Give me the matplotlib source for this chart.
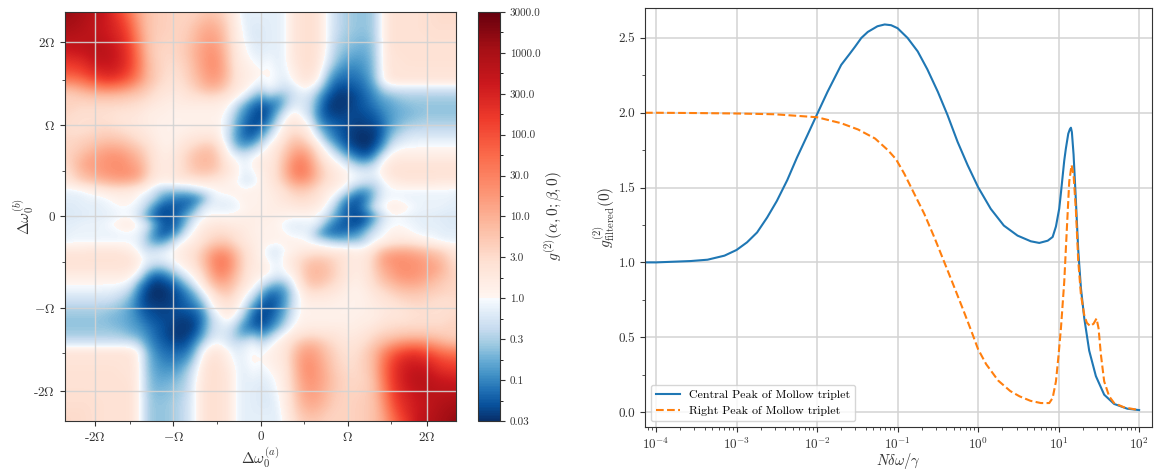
import numpy as np
import matplotlib
matplotlib.use('Agg')
import matplotlib.pyplot as plt
from matplotlib.colors import LinearSegmentedColormap, Normalize

plt.rcParams['font.family'] = ['cmr10', 'DejaVu Sans']
plt.rcParams['mathtext.fontset'] = 'cm'
plt.rcParams['axes.unicode_minus'] = False
plt.rcParams['axes.formatter.use_mathtext'] = True

# log10 g2, rows from the top edge down to the middle row
# left part runs from the left edge to the centre column, right part on to the right edge
# the map is point symmetric so the bottom half is the top half turned round
map_left = [
 [3.2,3.1,3.0,2.9,2.8,2.6,2.3,2.0,1.6,1.1,.85,.7,.65,.6,.6,.6,.6,.7,.7,.65,.4,.1,-.15,-.15,-.15],
 [3.1,3.05,2.95,2.85,2.75,2.6,2.4,2.15,1.75,1.2,.85,.7,.65,.6,.6,.6,.7,.85,.9,.75,.5,.15,-.15,-.15,-.15],
 [3.0,2.95,2.9,2.8,2.7,2.6,2.45,2.25,1.9,1.3,.85,.7,.65,.6,.6,.65,.85,1.0,1.05,.9,.55,.2,-.1,-.2,-.2],
 [2.85,2.85,2.8,2.8,2.75,2.65,2.5,2.35,2.0,1.4,.9,.7,.6,.6,.6,.7,.9,1.1,1.15,1.0,.6,.2,-.05,-.2,-.2],
 [2.7,2.75,2.75,2.8,2.8,2.75,2.6,2.4,2.1,1.5,.9,.65,.6,.55,.6,.75,.95,1.15,1.25,1.05,.65,.25,.0,-.15,-.2],
 [2.5,2.55,2.6,2.7,2.8,2.8,2.65,2.45,2.15,1.6,.95,.65,.55,.55,.6,.75,1.0,1.2,1.3,1.15,.7,.3,.05,-.1,-.15],
 [2.25,2.3,2.35,2.5,2.65,2.7,2.6,2.45,2.15,1.65,1.0,.7,.55,.5,.55,.7,.95,1.2,1.35,1.2,.75,.3,.15,.0,-.1],
 [2.0,2.05,2.15,2.3,2.45,2.5,2.5,2.35,2.05,1.6,1.0,.7,.55,.45,.5,.65,.9,1.15,1.3,1.2,.8,.35,.2,.1,.0],
 [1.6,1.65,1.75,1.95,2.1,2.25,2.2,2.05,1.8,1.4,.95,.7,.5,.4,.45,.6,.8,1.05,1.2,1.1,.75,.35,.2,.1,-.05],
 [.95,1.0,1.15,1.3,1.45,1.55,1.5,1.4,1.2,.95,.75,.55,.4,.35,.35,.5,.65,.85,.95,.85,.55,.3,.15,-.1,-.3],
 [.6,.65,.7,.75,.8,.8,.8,.75,.7,.65,.55,.4,.3,.25,.25,.35,.4,.45,.5,.4,.3,.1,-.2,-.6,-.85],
 [.6,.6,.55,.55,.55,.55,.55,.55,.5,.45,.35,.25,.2,.15,.2,.2,.2,.2,.2,.15,.05,-.35,-.75,-1.1,-1.25],
 [.55,.5,.45,.45,.45,.45,.4,.35,.35,.3,.2,.15,.15,.1,.1,.1,.1,.1,.1,.1,-.15,-.6,-1.0,-1.25,-1.4],
 [.5,.45,.45,.45,.45,.45,.4,.35,.3,.25,.2,.15,.1,.1,.1,.1,.1,.1,.1,.05,-.25,-.75,-1.1,-1.35,-1.3],
 [.5,.45,.45,.5,.55,.6,.55,.5,.4,.35,.25,.15,.1,.1,.1,.15,.2,.2,.2,.05,-.3,-.85,-1.2,-1.3,-1.1],
 [.55,.55,.6,.65,.7,.75,.75,.7,.6,.45,.35,.2,.1,.1,.2,.3,.35,.4,.4,.15,-.35,-.85,-1.1,-1.1,-.7],
 [.55,.6,.7,.8,.95,1.05,1.05,1.0,.85,.7,.5,.3,.15,.15,.3,.45,.6,.75,.7,.4,-.1,-.6,-.75,-.55,-.2],
 [.55,.7,.85,1.05,1.15,1.25,1.3,1.25,1.1,.9,.6,.35,.2,.25,.4,.6,.8,.9,.85,.55,.1,-.1,-.2,-.05,.1],
 [.5,.7,1.0,1.15,1.2,1.3,1.35,1.35,1.2,1.05,.7,.35,.25,.25,.4,.6,.8,.9,.85,.6,.3,.05,-.1,.05,.25],
 [.4,.6,.85,1.0,1.15,1.25,1.3,1.35,1.3,1.15,.7,.35,.25,.25,.4,.55,.65,.7,.65,.5,.3,.1,-.15,-.05,.1],
 [.25,.4,.6,.7,.8,.9,1.0,1.0,.95,.8,.45,.2,.1,.15,.2,.2,.25,.3,.25,.2,.1,.0,-.2,-.15,.1],
 [-.1,-.1,-.05,.05,.15,.25,.3,.3,.25,.1,.0,-.3,-.5,-.55,-.55,-.5,-.35,-.2,-.05,.05,.1,.1,.05,.1,.1],
 [-.15,-.15,-.15,-.1,-.1,-.05,.05,.1,.1,-.05,-.25,-.5,-.9,-1.05,-1.1,-1.15,-1.05,-.75,-.2,-.1,-.1,.0,.1,.1,.1],
 [-.2,-.2,-.15,-.15,-.15,-.1,-.05,.0,-.05,-.15,-.5,-1.0,-1.3,-1.3,-1.25,-1.1,-.75,-.2,-.1,-.15,-.15,-.1,.05,.1,.1],
 [-.2,-.2,-.2,-.15,-.15,-.15,-.1,-.05,-.05,-.3,-.8,-1.2,-1.35,-1.3,-1.1,-.75,-.3,-.05,.05,.05,.05,.1,.1,.15,.15],
]
map_right = [
 [-.15,-.15,-.05,.3,.4,.45,.35,.0,-.3,-.45,-.55,-.6,-.6,-.45,.1,.4,.4,.4,.4,.45,.45,.5,.5,.55],
 [-.15,-.15,-.05,.3,.4,.45,.35,.0,-.3,-.45,-.55,-.6,-.6,-.45,.1,.4,.4,.4,.4,.45,.45,.5,.5,.5],
 [-.15,-.15,-.05,.3,.4,.45,.35,.0,-.3,-.45,-.55,-.6,-.6,-.45,.1,.4,.4,.4,.4,.45,.45,.45,.45,.45],
 [-.15,-.15,-.05,.3,.4,.45,.35,.0,-.35,-.5,-.6,-.65,-.65,-.45,.1,.4,.4,.4,.4,.4,.45,.45,.45,.45],
 [-.15,-.15,-.05,.3,.4,.45,.35,.0,-.4,-.55,-.65,-.7,-.7,-.5,.1,.4,.4,.4,.4,.4,.4,.4,.4,.4],
 [-.1,-.15,-.05,.3,.4,.45,.3,-.05,-.45,-.65,-.75,-.8,-.75,-.5,.1,.35,.4,.4,.4,.4,.4,.4,.4,.4],
 [.0,-.15,-.05,.25,.4,.45,.3,-.15,-.55,-.8,-.9,-.9,-.8,-.55,.1,.35,.35,.4,.4,.4,.4,.4,.4,.4],
 [.05,-.1,-.1,.15,.35,.4,.2,-.35,-.8,-1.0,-1.05,-1.0,-.85,-.55,.05,.35,.35,.35,.35,.35,.35,.35,.35,.35],
 [.05,-.1,-.15,.05,.3,.3,.05,-.6,-1.05,-1.15,-1.15,-1.1,-.95,-.6,.05,.3,.35,.35,.35,.35,.35,.35,.35,.35],
 [-.05,-.2,-.3,-.2,.0,.0,-.35,-.9,-1.25,-1.35,-1.3,-1.2,-1.05,-.8,-.4,-.2,-.2,-.2,-.2,-.2,-.2,-.2,-.2,-.2],
 [-.6,-.75,-.6,-.3,-.2,-.3,-.75,-1.2,-1.4,-1.45,-1.4,-1.3,-1.15,-.95,-.75,-.65,-.55,-.5,-.5,-.5,-.5,-.5,-.5,-.5],
 [-1.15,-1.0,-.55,-.2,-.2,-.4,-.9,-1.35,-1.45,-1.45,-1.4,-1.3,-1.2,-1.05,-.9,-.8,-.7,-.65,-.6,-.6,-.6,-.6,-.6,-.6],
 [-1.2,-.7,-.2,.1,-.1,-.4,-1.0,-1.3,-1.4,-1.4,-1.35,-1.35,-1.3,-1.2,-1.0,-.85,-.75,-.7,-.65,-.6,-.6,-.6,-.6,-.6],
 [-1.0,-.4,.1,.3,.15,-.15,-.8,-1.15,-1.25,-1.3,-1.35,-1.4,-1.35,-1.3,-1.1,-.85,-.7,-.6,-.55,-.5,-.5,-.5,-.5,-.5],
 [-.6,-.1,.25,.45,.35,.1,-.5,-.9,-1.15,-1.3,-1.4,-1.45,-1.45,-1.4,-1.15,-.75,-.55,-.4,-.35,-.35,-.35,-.35,-.35,-.35],
 [-.2,.1,.45,.7,.65,.35,-.1,-.65,-1.0,-1.25,-1.4,-1.5,-1.5,-1.4,-1.05,-.55,-.3,-.2,-.15,-.15,-.15,-.15,-.15,-.15],
 [.1,.35,.65,.95,1.0,.75,.3,-.15,-.6,-1.0,-1.3,-1.4,-1.45,-1.25,-.8,-.2,-.05,.0,.0,.0,.0,.0,.0,.0],
 [.2,.45,.8,1.2,1.35,1.05,.55,.15,-.15,-.5,-.9,-1.15,-1.2,-.85,-.2,.1,.2,.2,.2,.2,.2,.2,.2,.2],
 [.25,.5,.95,1.4,1.55,1.25,.75,.4,.15,-.05,-.3,-.55,-.55,-.3,.1,.3,.35,.35,.35,.35,.35,.35,.35,.35],
 [.3,.5,.95,1.4,1.55,1.3,.85,.5,.3,.15,.0,-.1,-.15,-.1,.15,.35,.4,.4,.4,.4,.4,.4,.4,.4],
 [.25,.45,.75,1.1,1.2,1.05,.7,.45,.3,.15,-.05,-.2,-.3,-.3,-.05,.15,.25,.3,.3,.3,.3,.25,.25,.25],
 [.2,.3,.45,.65,.7,.6,.45,.25,.1,-.1,-.5,-.85,-.85,-.55,-.15,-.05,-.05,-.05,-.05,-.05,-.05,-.05,-.05,-.1],
 [.15,.25,.35,.45,.5,.45,.35,.1,-.15,-.7,-1.15,-1.25,-1.0,-.5,-.1,-.05,-.05,-.1,-.1,-.1,-.1,-.1,-.1,-.15],
 [.15,.2,.2,.25,.3,.25,.15,-.05,-.5,-1.05,-1.3,-1.2,-.8,-.2,.0,.2,.15,.05,-.05,-.1,-.1,-.1,-.15,-.15],
 [.15,.1,.1,.05,.05,.05,-.05,-.3,-.75,-1.1,-1.3,-1.35,-1.2,-.8,-.3,-.05,-.05,-.1,-.15,-.15,-.15,-.2,-.2,-.2],
]

omega_half = 2.24
x_major = [-1.9, -1, 0, 1, 1.905]
y_major = [-1.91, -1, 0, 1, 1.91]
tick_labels = ['-2$\\Omega$', '$-\\Omega$', '0', '$\\Omega$', '2$\\Omega$']
minor_ticks = [-1.5, -0.5, 0.5, 1.5]

cbar_ticks = [-1.5, -1, -.5, 0, .5, 1, 1.5, 2, 2.5, 3, 3.5]
cbar_labels = ['0.03', '0.1', '0.3', '1.0', '3.0', '10.0', '30.0', '100.0', '300.0', '1000.0', '3000.0']

# right panel curves, x given as log10
logw_central = [-4.137,-4,-3.57,-3.36,-3.15,-3,-2.87,-2.745,-2.62,-2.5,-2.37,-2.25,-2.12,-2,-1.87,-1.7,-1.6,-1.53,-1.45,-1.37,-1.25,-1.16,-1.08,-1,-.876,-.75,-.63,-.5,-.38,-.255,-.13,0,.157,.32,.49,.655,.76,.865,.926,.967,1.008,1.03,1.07,1.09,1.12,1.14,1.153,1.165,1.186,1.215,1.244,1.277,1.318,1.38,1.463,1.566,1.69,1.855,2]
g_central = [1.0,1.0,1.009,1.018,1.045,1.083,1.134,1.2,1.3,1.41,1.55,1.70,1.85,1.99,2.14,2.32,2.39,2.44,2.5,2.54,2.578,2.59,2.585,2.565,2.5,2.41,2.29,2.14,1.985,1.806,1.65,1.503,1.358,1.246,1.179,1.141,1.13,1.145,1.17,1.24,1.36,1.47,1.68,1.76,1.86,1.89,1.9,1.87,1.72,1.41,1.08,.83,.63,.41,.24,.116,.054,.022,.013]
logw_right = [-4.137,-4,-3.5,-3,-2.53,-2,-1.7,-1.49,-1.28,-1.12,-1.02,-.917,-.793,-.668,-.544,-.4,-.3,-.19,-.09,0,.1,.25,.4,.515,.65,.78,.884,.926,.967,.996,1.029,1.07,1.103,1.132,1.161,1.186,1.215,1.244,1.277,1.318,1.351,1.393,1.434,1.471,1.496,1.525,1.566,1.628,1.69,1.814,2]
g_right = [2.0,2.0,1.998,1.995,1.99,1.97,1.93,1.888,1.828,1.75,1.69,1.593,1.459,1.324,1.168,.975,.84,.69,.55,.42,.32,.21,.14,.105,.075,.06,.06,.094,.205,.36,.56,.87,1.23,1.54,1.65,1.585,1.345,1.01,.785,.65,.596,.574,.59,.625,.56,.385,.205,.105,.06,.031,.013]

ink = '#333333'
colors = np.vstack([plt.get_cmap('Blues_r')(np.linspace(0, 1, 77)), plt.get_cmap('Reds')(np.linspace(0, 1, 179))])
cmap = LinearSegmentedColormap.from_list('blue_red', colors, N=256)

half = np.hstack([np.array(map_left), np.array(map_right)])
top = half[:-1]
g2_map = np.vstack([top, half[-1:], top[::-1, ::-1]])
step = 2 * omega_half / (g2_map.shape[1] - 1)
edge = omega_half + step / 2

fig = plt.figure(figsize=(11.56, 4.69), dpi=100)
W, H = 1156.0, 469.0

ax = fig.add_axes([65/W, 1-421/H, 391/W, 409/H])
im = ax.imshow(g2_map, extent=[-edge, edge, -edge, edge], cmap=cmap,
               norm=Normalize(-1.5, 3.5), interpolation='bicubic', aspect='auto')
ax.set_xlim(-omega_half, omega_half)
ax.set_ylim(-omega_half, omega_half)
ax.set_xticks(x_major)
ax.set_xticklabels(tick_labels)
ax.set_yticks(y_major)
ax.set_yticklabels(tick_labels)
ax.set_xticks(minor_ticks, minor=True)
ax.set_yticks(minor_ticks, minor=True)
ax.grid(True, color='lightgray', lw=1.0, alpha=0.9)
ax.set_xlabel(r'$\Delta\omega_0^{(a)}$', fontsize=11, color=ink, labelpad=1)
ax.set_ylabel(r'$\Delta\omega_0^{(b)}$', fontsize=11, color=ink, labelpad=-2)

cax = fig.add_axes([478/W, 1-421/H, 22/W, 409/H])
cbar = fig.colorbar(im, cax=cax)
cbar.set_ticks(cbar_ticks)
cbar.set_ticklabels(cbar_labels)
cbar.ax.set_yticks(np.arange(-1.25, 3.5, 0.5), minor=True)
cbar.ax.tick_params(labelsize=8, colors=ink)
cbar.set_label(r'$g^{(2)}(\alpha,0;\beta,0)$', fontsize=11, color=ink, labelpad=2)

ax2 = fig.add_axes([645/W, 1-427/H, 507/W, 419/H])
ax2.semilogx(10**np.array(logw_central), g_central, color='C0', lw=1.5, label='Central Peak of Mollow triplet')
ax2.semilogx(10**np.array(logw_right), g_right, color='C1', lw=1.5, ls='--', label='Right Peak of Mollow triplet')
ax2.set_xlim(10**-4.137, 10**2.16)
ax2.set_ylim(-0.1, 2.7)
ax2.set_yticks([0, .5, 1, 1.5, 2, 2.5])
ax2.set_yticklabels(['0.0', '0.5', '1.0', '1.5', '2.0', '2.5'])
ax2.set_yticks(np.arange(.25, 2.7, .5), minor=True)
ax2.set_xticks([1e-4, 1e-3, 1e-2, 1e-1, 1, 10, 100])
ax2.set_xticklabels(['$10^{-4}$', '$10^{-3}$', '$10^{-2}$', '$10^{-1}$', '$10^{0}$', '$10^{1}$', '$10^{2}$'])
ax2.grid(True, color='lightgray', lw=1.1)
ax2.set_axisbelow(True)
ax2.set_xlabel(r'$N\delta\omega/\gamma$', fontsize=10.5, color=ink, labelpad=-1)
ax2.set_ylabel(r'$g^{(2)}_{\mathrm{filtered}}(0)$', fontsize=11, color=ink, labelpad=1)
ax2.legend(loc='lower left', fontsize=8.6, borderaxespad=0.5)

for a in [ax, ax2]:
    a.tick_params(which='both', colors=ink, labelsize=9.5)
for a in [ax, cax, ax2]:
    for s in a.spines.values():
        s.set_color(ink)

fig.savefig('out.png', dpi=100)
